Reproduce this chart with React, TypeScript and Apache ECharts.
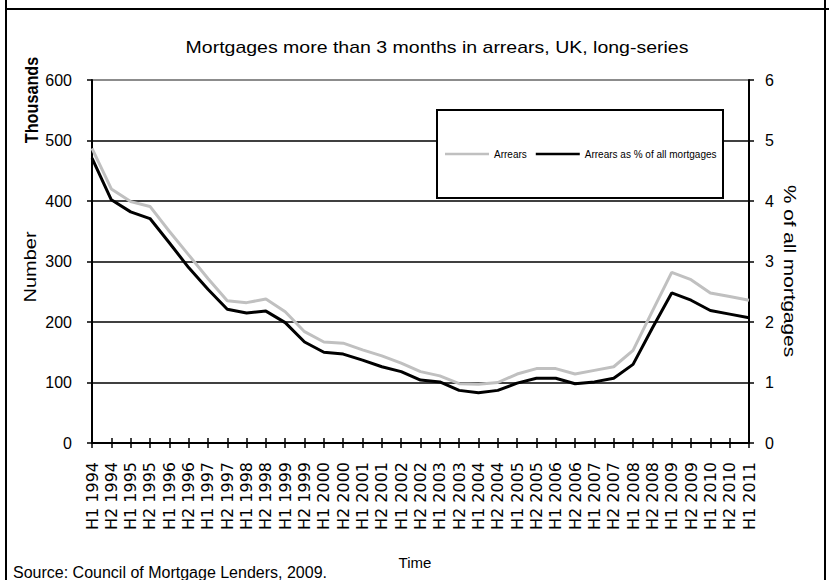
import React, { useEffect, useRef } from "react";
import * as echarts from "echarts";

const categories = [
  "H1 1994", "H2 1994", "H1 1995", "H2 1995", "H1 1996", "H2 1996", "H1 1997", "H2 1997",
  "H1 1998", "H2 1998", "H1 1999", "H2 1999", "H1 2000", "H2 2000", "H1 2001", "H2 2001",
  "H1 2002", "H2 2002", "H1 2003", "H2 2003", "H1 2004", "H2 2004", "H1 2005", "H2 2005",
  "H1 2006", "H2 2006", "H1 2007", "H2 2007", "H1 2008", "H2 2008", "H1 2009", "H2 2009",
  "H1 2010", "H2 2010", "H1 2011",
];

// Arrears, thousands (left axis)
const arrears = [
  487, 420, 399, 391, 350, 311, 272, 235,
  232, 238, 217, 184, 167, 165, 154, 144,
  132, 118, 111, 98, 97, 100, 114, 123,
  123, 114, 120, 126, 153, 218, 282, 270,
  248, 242, 236,
];

// Arrears as % of all mortgages (right axis)
const arrearsPct = [
  4.71, 4.02, 3.82, 3.71, 3.31, 2.9, 2.54, 2.21,
  2.15, 2.18, 1.99, 1.67, 1.5, 1.47, 1.37, 1.26,
  1.18, 1.04, 1.01, 0.87, 0.83, 0.87, 0.99, 1.07,
  1.07, 0.98, 1.01, 1.07, 1.3, 1.9, 2.48, 2.36,
  2.19, 2.13, 2.07,
];

const leftTicks = [0, 600, 100];
const rightTicks = [0, 6, 1];

const ARIAL = "Liberation Sans, Arial, sans-serif";

export default function App() {
  const ref = useRef<HTMLDivElement>(null);

  useEffect(() => {
    if (!ref.current) return;
    const chart = echarts.init(ref.current, undefined, { renderer: "svg" });
    const option: any = {
      animation: false,
      backgroundColor: "#fff",
      grid: { left: 92, right: 80, top: 80, bottom: 137, containLabel: false },
      legend: {
        data: [
          { name: "Arrears", icon: "rect" },
          { name: "Arrears as % of all mortgages", icon: "rect" },
        ],
        left: 445,
        top: 147,
        padding: 0,
        itemWidth: 44,
        itemHeight: 2.5,
        itemGap: 9,
        textStyle: { fontSize: 10, fontFamily: ARIAL, color: "#000", lineHeight: 14 },
        z: 10,
      },
      xAxis: [
        {
          type: "category",
          data: categories,
          boundaryGap: false,
          axisLine: { show: true, lineStyle: { color: "#000", width: 2 } },
          axisTick: { show: true, interval: 0, length: 5, lineStyle: { color: "#000", width: 1.5 } },
          axisLabel: {
            interval: 0,
            rotate: 90,
            margin: 19,
            fontSize: 16,
            fontFamily: "DejaVu Sans",
            color: "#000",
          },
          splitLine: { show: false },
        },
        {
          type: "category",
          data: categories,
          boundaryGap: false,
          position: "bottom",
          axisLine: { show: false },
          axisTick: { show: true, inside: true, interval: 0, length: 5, lineStyle: { color: "#000", width: 1.5 } },
          axisLabel: { show: false },
          splitLine: { show: false },
        },
      ],
      yAxis: [
        {
          type: "value",
          position: "left",
          min: leftTicks[0],
          max: leftTicks[1],
          interval: leftTicks[2],
          axisLine: { show: true, lineStyle: { color: "#000", width: 2 } },
          axisTick: { show: true, length: 5, lineStyle: { color: "#000", width: 1.5 } },
          axisLabel: { margin: 20, fontSize: 16, fontFamily: ARIAL, color: "#000" },
          splitLine: {
            show: true,
            lineStyle: { color: ["#000", "#000", "#000", "#000", "#000", "#000", "#666"], width: 1.5 },
          },
        },
        {
          type: "value",
          position: "right",
          min: rightTicks[0],
          max: rightTicks[1],
          interval: rightTicks[2],
          axisLine: { show: true, lineStyle: { color: "#000", width: 2 } },
          axisTick: { show: true, length: 5, lineStyle: { color: "#000", width: 1.5 } },
          axisLabel: { margin: 16, fontSize: 16, fontFamily: ARIAL, color: "#000" },
          splitLine: { show: false },
        },
      ],
      series: [
        {
          name: "Arrears",
          type: "line",
          data: arrears,
          xAxisIndex: 0,
          yAxisIndex: 0,
          symbol: "none",
          lineStyle: { color: "#c0c0c0", width: 3 },
          itemStyle: { color: "#c0c0c0" },
          z: 2,
        },
        {
          name: "Arrears as % of all mortgages",
          type: "line",
          data: arrearsPct,
          xAxisIndex: 0,
          yAxisIndex: 1,
          symbol: "none",
          lineStyle: { color: "#000", width: 3 },
          itemStyle: { color: "#000" },
          z: 3,
        },
      ],
      graphic: [
        { type: "line", z: 5, shape: { x1: 6, y1: 0, x2: 6, y2: 580 }, style: { stroke: "#000", lineWidth: 2 } },
        { type: "line", z: 5, shape: { x1: 825, y1: 0, x2: 825, y2: 580 }, style: { stroke: "#000", lineWidth: 2 } },
        { type: "line", z: 5, shape: { x1: 6, y1: 9, x2: 829, y2: 9 }, style: { stroke: "#000", lineWidth: 2 } },
        {
          type: "rect",
          z: 4,
          shape: { x: 437, y: 110, width: 286, height: 88 },
          style: { fill: "#fff", stroke: "#000", lineWidth: 2 },
        },
        {
          type: "text",
          z: 5,
          x: 437,
          y: 48,
          scaleX: 1.22,
          style: {
            text: "Mortgages more than 3 months in arrears, UK, long-series",
            font: `16px ${ARIAL}`,
            fill: "#000",
            align: "center",
            verticalAlign: "middle",
          },
        },
        {
          type: "text",
          z: 5,
          x: 32,
          y: 100,
          rotation: Math.PI / 2,
          scaleX: 0.9,
          style: {
            text: "Thousands",
            font: `bold 18px ${ARIAL}`,
            fill: "#000",
            align: "center",
            verticalAlign: "middle",
          },
        },
        {
          type: "text",
          z: 5,
          x: 31,
          y: 267,
          rotation: Math.PI / 2,
          scaleX: 1.25,
          style: {
            text: "Number",
            font: `16px ${ARIAL}`,
            fill: "#000",
            align: "center",
            verticalAlign: "middle",
          },
        },
        {
          type: "text",
          z: 5,
          x: 790,
          y: 271,
          rotation: -Math.PI / 2,
          scaleX: 1.3,
          style: {
            text: "% of all mortgages",
            font: `16px ${ARIAL}`,
            fill: "#000",
            align: "center",
            verticalAlign: "middle",
          },
        },
        {
          type: "text",
          z: 5,
          x: 415,
          y: 562,
          style: { text: "Time", font: `15px ${ARIAL}`, fill: "#000", align: "center", verticalAlign: "middle" },
        },
        {
          type: "text",
          z: 5,
          x: 13,
          y: 572,
          style: {
            text: "Source: Council of Mortgage Lenders, 2009.",
            font: `16px ${ARIAL}`,
            fill: "#000",
            align: "left",
            verticalAlign: "middle",
          },
        },
      ],
    };
    chart.setOption(option);
    return () => chart.dispose();
  }, []);

  return (
    <div
      ref={ref}
      style={{ position: "fixed", left: 0, top: 0, width: 829, height: 580, background: "#fff" }}
    />
  );
}
